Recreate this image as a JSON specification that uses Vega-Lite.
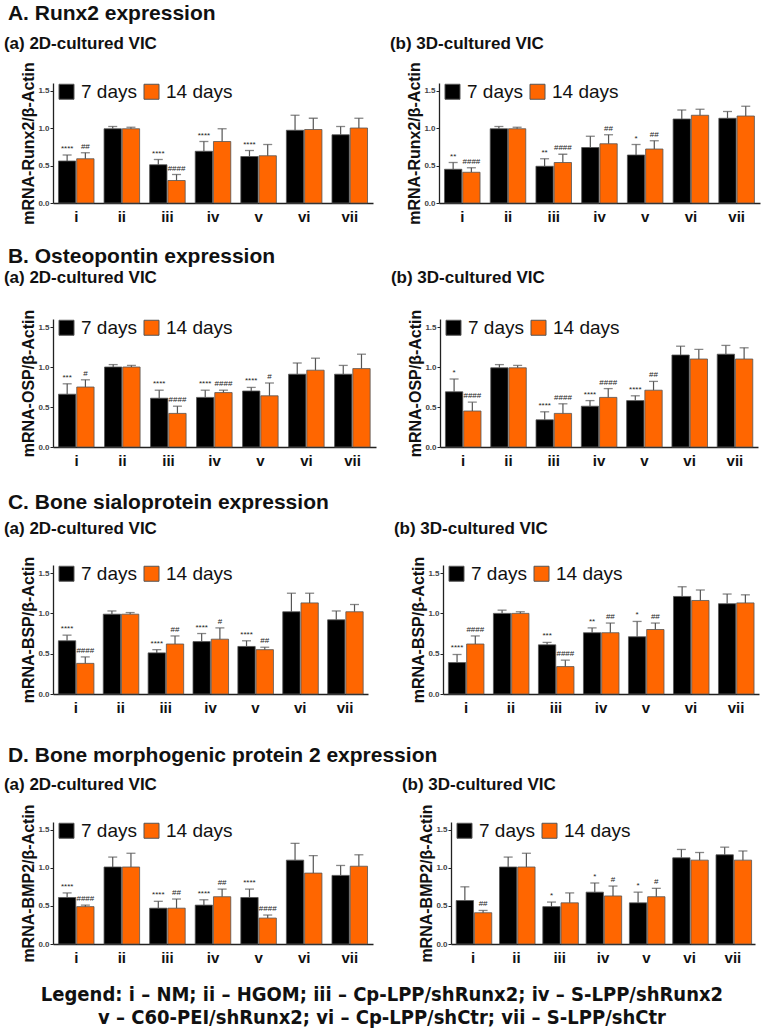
{
"$schema": "https://vega.github.io/schema/vega-lite/v6.json",
"padding": {"left": 3, "top": 2, "right": 2, "bottom": 0},
"background": "white",
"datasets": {"d": [
{"p":"A2","g":"i","d":"7 days","v":0.56,"hi":0.64,"s":"****"},{"p":"A2","g":"i","d":"14 days","v":0.59,"hi":0.67,"s":"##"},
{"p":"A2","g":"ii","d":"7 days","v":0.99,"hi":1.02,"s":""},{"p":"A2","g":"ii","d":"14 days","v":0.99,"hi":1.01,"s":""},
{"p":"A2","g":"iii","d":"7 days","v":0.51,"hi":0.58,"s":"****"},{"p":"A2","g":"iii","d":"14 days","v":0.30,"hi":0.38,"s":"####"},
{"p":"A2","g":"iv","d":"7 days","v":0.69,"hi":0.82,"s":"****"},{"p":"A2","g":"iv","d":"14 days","v":0.82,"hi":0.99,"s":""},
{"p":"A2","g":"v","d":"7 days","v":0.62,"hi":0.70,"s":"****"},{"p":"A2","g":"v","d":"14 days","v":0.63,"hi":0.78,"s":""},
{"p":"A2","g":"vi","d":"7 days","v":0.97,"hi":1.17,"s":""},{"p":"A2","g":"vi","d":"14 days","v":0.98,"hi":1.13,"s":""},
{"p":"A2","g":"vii","d":"7 days","v":0.91,"hi":1.02,"s":""},{"p":"A2","g":"vii","d":"14 days","v":1.00,"hi":1.13,"s":""},

{"p":"A3","g":"i","d":"7 days","v":0.45,"hi":0.54,"s":"**"},{"p":"A3","g":"i","d":"14 days","v":0.41,"hi":0.47,"s":"####"},
{"p":"A3","g":"ii","d":"7 days","v":0.99,"hi":1.02,"s":""},{"p":"A3","g":"ii","d":"14 days","v":0.99,"hi":1.01,"s":""},
{"p":"A3","g":"iii","d":"7 days","v":0.49,"hi":0.59,"s":"**"},{"p":"A3","g":"iii","d":"14 days","v":0.54,"hi":0.65,"s":"####"},
{"p":"A3","g":"iv","d":"7 days","v":0.74,"hi":0.89,"s":""},{"p":"A3","g":"iv","d":"14 days","v":0.79,"hi":0.91,"s":"##"},
{"p":"A3","g":"v","d":"7 days","v":0.64,"hi":0.78,"s":"*"},{"p":"A3","g":"v","d":"14 days","v":0.72,"hi":0.83,"s":"##"},
{"p":"A3","g":"vi","d":"7 days","v":1.12,"hi":1.24,"s":""},{"p":"A3","g":"vi","d":"14 days","v":1.17,"hi":1.25,"s":""},
{"p":"A3","g":"vii","d":"7 days","v":1.13,"hi":1.22,"s":""},{"p":"A3","g":"vii","d":"14 days","v":1.16,"hi":1.29,"s":""},

{"p":"B2","g":"i","d":"7 days","v":0.66,"hi":0.79,"s":"***"},{"p":"B2","g":"i","d":"14 days","v":0.75,"hi":0.84,"s":"#"},
{"p":"B2","g":"ii","d":"7 days","v":1.00,"hi":1.03,"s":""},{"p":"B2","g":"ii","d":"14 days","v":1.00,"hi":1.02,"s":""},
{"p":"B2","g":"iii","d":"7 days","v":0.61,"hi":0.71,"s":"****"},{"p":"B2","g":"iii","d":"14 days","v":0.42,"hi":0.51,"s":"####"},
{"p":"B2","g":"iv","d":"7 days","v":0.62,"hi":0.71,"s":"****"},{"p":"B2","g":"iv","d":"14 days","v":0.68,"hi":0.71,"s":"####"},
{"p":"B2","g":"v","d":"7 days","v":0.70,"hi":0.745,"s":"****"},{"p":"B2","g":"v","d":"14 days","v":0.64,"hi":0.80,"s":"#"},
{"p":"B2","g":"vi","d":"7 days","v":0.91,"hi":1.05,"s":""},{"p":"B2","g":"vi","d":"14 days","v":0.96,"hi":1.11,"s":""},
{"p":"B2","g":"vii","d":"7 days","v":0.91,"hi":1.02,"s":""},{"p":"B2","g":"vii","d":"14 days","v":0.98,"hi":1.16,"s":""},

{"p":"B3","g":"i","d":"7 days","v":0.69,"hi":0.85,"s":"*"},{"p":"B3","g":"i","d":"14 days","v":0.45,"hi":0.56,"s":"####"},
{"p":"B3","g":"ii","d":"7 days","v":0.99,"hi":1.03,"s":""},{"p":"B3","g":"ii","d":"14 days","v":0.99,"hi":1.02,"s":""},
{"p":"B3","g":"iii","d":"7 days","v":0.34,"hi":0.44,"s":"****"},{"p":"B3","g":"iii","d":"14 days","v":0.42,"hi":0.54,"s":"####"},
{"p":"B3","g":"iv","d":"7 days","v":0.51,"hi":0.58,"s":"****"},{"p":"B3","g":"iv","d":"14 days","v":0.62,"hi":0.73,"s":"####"},
{"p":"B3","g":"v","d":"7 days","v":0.58,"hi":0.64,"s":"****"},{"p":"B3","g":"v","d":"14 days","v":0.71,"hi":0.82,"s":"##"},
{"p":"B3","g":"vi","d":"7 days","v":1.15,"hi":1.26,"s":""},{"p":"B3","g":"vi","d":"14 days","v":1.10,"hi":1.22,"s":""},
{"p":"B3","g":"vii","d":"7 days","v":1.16,"hi":1.27,"s":""},{"p":"B3","g":"vii","d":"14 days","v":1.10,"hi":1.24,"s":""},

{"p":"C2","g":"i","d":"7 days","v":0.66,"hi":0.73,"s":"****"},{"p":"C2","g":"i","d":"14 days","v":0.38,"hi":0.46,"s":"####"},
{"p":"C2","g":"ii","d":"7 days","v":0.99,"hi":1.03,"s":""},{"p":"C2","g":"ii","d":"14 days","v":0.99,"hi":1.01,"s":""},
{"p":"C2","g":"iii","d":"7 days","v":0.51,"hi":0.55,"s":"****"},{"p":"C2","g":"iii","d":"14 days","v":0.62,"hi":0.72,"s":"##"},
{"p":"C2","g":"iv","d":"7 days","v":0.65,"hi":0.75,"s":"****"},{"p":"C2","g":"iv","d":"14 days","v":0.68,"hi":0.82,"s":"#"},
{"p":"C2","g":"v","d":"7 days","v":0.59,"hi":0.66,"s":"****"},{"p":"C2","g":"v","d":"14 days","v":0.55,"hi":0.58,"s":"##"},
{"p":"C2","g":"vi","d":"7 days","v":1.02,"hi":1.25,"s":""},{"p":"C2","g":"vi","d":"14 days","v":1.13,"hi":1.25,"s":""},
{"p":"C2","g":"vii","d":"7 days","v":0.92,"hi":1.03,"s":""},{"p":"C2","g":"vii","d":"14 days","v":1.02,"hi":1.11,"s":""},

{"p":"C3","g":"i","d":"7 days","v":0.39,"hi":0.49,"s":"****"},{"p":"C3","g":"i","d":"14 days","v":0.62,"hi":0.72,"s":"####"},
{"p":"C3","g":"ii","d":"7 days","v":1.00,"hi":1.04,"s":""},{"p":"C3","g":"ii","d":"14 days","v":1.00,"hi":1.02,"s":""},
{"p":"C3","g":"iii","d":"7 days","v":0.61,"hi":0.64,"s":"***"},{"p":"C3","g":"iii","d":"14 days","v":0.34,"hi":0.42,"s":"####"},
{"p":"C3","g":"iv","d":"7 days","v":0.76,"hi":0.82,"s":"**"},{"p":"C3","g":"iv","d":"14 days","v":0.76,"hi":0.88,"s":"##"},
{"p":"C3","g":"v","d":"7 days","v":0.71,"hi":0.90,"s":"*"},{"p":"C3","g":"v","d":"14 days","v":0.80,"hi":0.88,"s":"##"},
{"p":"C3","g":"vi","d":"7 days","v":1.21,"hi":1.33,"s":""},{"p":"C3","g":"vi","d":"14 days","v":1.16,"hi":1.29,"s":""},
{"p":"C3","g":"vii","d":"7 days","v":1.12,"hi":1.24,"s":""},{"p":"C3","g":"vii","d":"14 days","v":1.13,"hi":1.23,"s":""},

{"p":"D2","g":"i","d":"7 days","v":0.61,"hi":0.67,"s":"****"},{"p":"D2","g":"i","d":"14 days","v":0.49,"hi":0.51,"s":"####"},
{"p":"D2","g":"ii","d":"7 days","v":1.01,"hi":1.14,"s":""},{"p":"D2","g":"ii","d":"14 days","v":1.01,"hi":1.19,"s":""},
{"p":"D2","g":"iii","d":"7 days","v":0.47,"hi":0.56,"s":"****"},{"p":"D2","g":"iii","d":"14 days","v":0.47,"hi":0.59,"s":"##"},
{"p":"D2","g":"iv","d":"7 days","v":0.51,"hi":0.58,"s":"****"},{"p":"D2","g":"iv","d":"14 days","v":0.62,"hi":0.72,"s":"##"},
{"p":"D2","g":"v","d":"7 days","v":0.61,"hi":0.72,"s":"****"},{"p":"D2","g":"v","d":"14 days","v":0.34,"hi":0.38,"s":"####"},
{"p":"D2","g":"vi","d":"7 days","v":1.10,"hi":1.32,"s":""},{"p":"D2","g":"vi","d":"14 days","v":0.93,"hi":1.16,"s":""},
{"p":"D2","g":"vii","d":"7 days","v":0.90,"hi":1.03,"s":""},{"p":"D2","g":"vii","d":"14 days","v":1.02,"hi":1.17,"s":""},

{"p":"D3","g":"i","d":"7 days","v":0.57,"hi":0.75,"s":""},{"p":"D3","g":"i","d":"14 days","v":0.41,"hi":0.44,"s":"##"},
{"p":"D3","g":"ii","d":"7 days","v":1.01,"hi":1.14,"s":""},{"p":"D3","g":"ii","d":"14 days","v":1.01,"hi":1.19,"s":""},
{"p":"D3","g":"iii","d":"7 days","v":0.49,"hi":0.55,"s":"*"},{"p":"D3","g":"iii","d":"14 days","v":0.54,"hi":0.67,"s":""},
{"p":"D3","g":"iv","d":"7 days","v":0.68,"hi":0.80,"s":"*"},{"p":"D3","g":"iv","d":"14 days","v":0.63,"hi":0.76,"s":"#"},
{"p":"D3","g":"v","d":"7 days","v":0.54,"hi":0.68,"s":"*"},{"p":"D3","g":"v","d":"14 days","v":0.62,"hi":0.73,"s":"#"},
{"p":"D3","g":"vi","d":"7 days","v":1.13,"hi":1.24,"s":""},{"p":"D3","g":"vi","d":"14 days","v":1.10,"hi":1.20,"s":""},
{"p":"D3","g":"vii","d":"7 days","v":1.17,"hi":1.27,"s":""},{"p":"D3","g":"vii","d":"14 days","v":1.10,"hi":1.22,"s":""}
]},
"title": {"text": ["Legend: i – NM; ii – HGOM; iii – Cp-LPP/shRunx2; iv – S-LPP/shRunx2", "v – C60-PEI/shRunx2; vi – Cp-LPP/shCtr; vii – S-LPP/shCtr"], "orient": "bottom", "anchor": "middle", "frame": "bounds", "font": "DejaVu Sans Condensed", "fontSize": 20, "fontWeight": "bold", "color": "#111", "offset": 20, "lineHeight": 23},
"resolve": {"scale": {"color": "independent"}, "legend": {"color": "independent"}},
"spacing": 19,
"vconcat": [
{"title": {"text": "A. Runx2 expression", "fontSize": 21, "dx": 4, "offset": 11}, "spacing": 16,
 "resolve": {"scale": {"color": "independent"}, "legend": {"color": "independent"}},
 "hconcat": [
  {"width": 320, "height": 120, "title": {"text": "(a) 2D-cultured VIC", "fontSize": 17, "dx": -17, "offset": 9},
   "data": {"name": "d"}, "transform": [{"filter": "datum.p == 'A2'"}],
   "encoding": {"x": {"field": "g", "type": "nominal", "sort": ["i","ii","iii","iv","v","vi","vii"], "scale": {"paddingInner": 0.22, "paddingOuter": 0.12}, "axis": {"title": null, "minExtent": 24}},
     "xOffset": {"field": "d", "sort": ["7 days","14 days"], "scale": {"paddingInner": 0.05}}},
   "layer": [
    {"mark": {"type": "bar", "stroke": "#555", "strokeWidth": 0.8}, "encoding": {"y": {"field": "v", "type": "quantitative", "scale": {"domain": [0, 1.5]}, "axis": {"title": "mRNA-Runx2/β-Actin"}}, "color": {"field": "d", "sort": ["7 days","14 days"], "scale": {"domain": ["7 days","14 days"], "range": ["#000000","#FF6600"]}}}},
    {"mark": {"type": "rule", "color": "#555", "strokeWidth": 1.2}, "encoding": {"y": {"field": "v", "type": "quantitative"}, "y2": {"field": "hi"}}},
    {"mark": {"type": "tick", "color": "#555", "size": 9, "thickness": 1.3, "orient": "horizontal"}, "encoding": {"y": {"field": "hi", "type": "quantitative"}}},
    {"mark": {"type": "text", "fontSize": 8, "dy": -6, "color": "#222"}, "encoding": {"y": {"field": "hi", "type": "quantitative"}, "text": {"field": "s"}}}
   ]},
  {"width": 321, "height": 120, "title": {"text": "(b) 3D-cultured VIC", "fontSize": 17, "dx": -17, "offset": 9},
   "data": {"name": "d"}, "transform": [{"filter": "datum.p == 'A3'"}],
   "encoding": {"x": {"field": "g", "type": "nominal", "sort": ["i","ii","iii","iv","v","vi","vii"], "scale": {"paddingInner": 0.22, "paddingOuter": 0.12}, "axis": {"title": null, "minExtent": 24}},
     "xOffset": {"field": "d", "sort": ["7 days","14 days"], "scale": {"paddingInner": 0.05}}},
   "layer": [
    {"mark": {"type": "bar", "stroke": "#555", "strokeWidth": 0.8}, "encoding": {"y": {"field": "v", "type": "quantitative", "scale": {"domain": [0, 1.5]}, "axis": {"title": "mRNA-Runx2/β-Actin"}}, "color": {"field": "d", "sort": ["7 days","14 days"], "scale": {"domain": ["7 days","14 days"], "range": ["#000000","#FF6600"]}}}},
    {"mark": {"type": "rule", "color": "#555", "strokeWidth": 1.2}, "encoding": {"y": {"field": "v", "type": "quantitative"}, "y2": {"field": "hi"}}},
    {"mark": {"type": "tick", "color": "#555", "size": 9, "thickness": 1.3, "orient": "horizontal"}, "encoding": {"y": {"field": "hi", "type": "quantitative"}}},
    {"mark": {"type": "text", "fontSize": 8, "dy": -6, "color": "#222"}, "encoding": {"y": {"field": "hi", "type": "quantitative"}, "text": {"field": "s"}}}
   ]}
 ]},
{"title": {"text": "B. Osteopontin expression", "fontSize": 21, "dx": 4, "offset": 2}, "spacing": 14,
 "resolve": {"scale": {"color": "independent"}, "legend": {"color": "independent"}},
 "hconcat": [
  {"width": 323, "height": 128, "title": {"text": "(a) 2D-cultured VIC", "fontSize": 17, "dx": -17, "offset": 22},
   "data": {"name": "d"}, "transform": [{"filter": "datum.p == 'B2'"}],
   "encoding": {"x": {"field": "g", "type": "nominal", "sort": ["i","ii","iii","iv","v","vi","vii"], "scale": {"paddingInner": 0.22, "paddingOuter": 0.12}, "axis": {"title": null, "minExtent": 26}},
     "xOffset": {"field": "d", "sort": ["7 days","14 days"], "scale": {"paddingInner": 0.05}}},
   "layer": [
    {"mark": {"type": "bar", "stroke": "#555", "strokeWidth": 0.8}, "encoding": {"y": {"field": "v", "type": "quantitative", "scale": {"domain": [0, 1.5]}, "axis": {"title": "mRNA-OSP/β-Actin"}}, "color": {"field": "d", "sort": ["7 days","14 days"], "scale": {"domain": ["7 days","14 days"], "range": ["#000000","#FF6600"]}}}},
    {"mark": {"type": "rule", "color": "#555", "strokeWidth": 1.2}, "encoding": {"y": {"field": "v", "type": "quantitative"}, "y2": {"field": "hi"}}},
    {"mark": {"type": "tick", "color": "#555", "size": 9, "thickness": 1.3, "orient": "horizontal"}, "encoding": {"y": {"field": "hi", "type": "quantitative"}}},
    {"mark": {"type": "text", "fontSize": 8, "dy": -6, "color": "#222"}, "encoding": {"y": {"field": "hi", "type": "quantitative"}, "text": {"field": "s"}}}
   ]},
  {"width": 318, "height": 128, "title": {"text": "(b) 3D-cultured VIC", "fontSize": 17, "dx": -17, "offset": 22},
   "data": {"name": "d"}, "transform": [{"filter": "datum.p == 'B3'"}],
   "encoding": {"x": {"field": "g", "type": "nominal", "sort": ["i","ii","iii","iv","v","vi","vii"], "scale": {"paddingInner": 0.22, "paddingOuter": 0.12}, "axis": {"title": null, "minExtent": 26}},
     "xOffset": {"field": "d", "sort": ["7 days","14 days"], "scale": {"paddingInner": 0.05}}},
   "layer": [
    {"mark": {"type": "bar", "stroke": "#555", "strokeWidth": 0.8}, "encoding": {"y": {"field": "v", "type": "quantitative", "scale": {"domain": [0, 1.5]}, "axis": {"title": "mRNA-OSP/β-Actin"}}, "color": {"field": "d", "sort": ["7 days","14 days"], "scale": {"domain": ["7 days","14 days"], "range": ["#000000","#FF6600"]}}}},
    {"mark": {"type": "rule", "color": "#555", "strokeWidth": 1.2}, "encoding": {"y": {"field": "v", "type": "quantitative"}, "y2": {"field": "hi"}}},
    {"mark": {"type": "tick", "color": "#555", "size": 9, "thickness": 1.3, "orient": "horizontal"}, "encoding": {"y": {"field": "hi", "type": "quantitative"}}},
    {"mark": {"type": "text", "fontSize": 8, "dy": -6, "color": "#222"}, "encoding": {"y": {"field": "hi", "type": "quantitative"}, "text": {"field": "s"}}}
   ]}
 ]},
{"title": {"text": "C. Bone sialoprotein expression", "fontSize": 21, "dx": 4, "offset": 7}, "spacing": 25,
 "resolve": {"scale": {"color": "independent"}, "legend": {"color": "independent"}},
 "hconcat": [
  {"width": 315, "height": 129, "title": {"text": "(a) 2D-cultured VIC", "fontSize": 17, "dx": -17, "offset": 18},
   "data": {"name": "d"}, "transform": [{"filter": "datum.p == 'C2'"}],
   "encoding": {"x": {"field": "g", "type": "nominal", "sort": ["i","ii","iii","iv","v","vi","vii"], "scale": {"paddingInner": 0.22, "paddingOuter": 0.12}, "axis": {"title": null, "minExtent": 31}},
     "xOffset": {"field": "d", "sort": ["7 days","14 days"], "scale": {"paddingInner": 0.05}}},
   "layer": [
    {"mark": {"type": "bar", "stroke": "#555", "strokeWidth": 0.8}, "encoding": {"y": {"field": "v", "type": "quantitative", "scale": {"domain": [0, 1.5]}, "axis": {"title": "mRNA-BSP/β-Actin"}}, "color": {"field": "d", "sort": ["7 days","14 days"], "scale": {"domain": ["7 days","14 days"], "range": ["#000000","#FF6600"]}}}},
    {"mark": {"type": "rule", "color": "#555", "strokeWidth": 1.2}, "encoding": {"y": {"field": "v", "type": "quantitative"}, "y2": {"field": "hi"}}},
    {"mark": {"type": "tick", "color": "#555", "size": 9, "thickness": 1.3, "orient": "horizontal"}, "encoding": {"y": {"field": "hi", "type": "quantitative"}}},
    {"mark": {"type": "text", "fontSize": 8, "dy": -6, "color": "#222"}, "encoding": {"y": {"field": "hi", "type": "quantitative"}, "text": {"field": "s"}}}
   ]},
  {"width": 316, "height": 129, "title": {"text": "(b) 3D-cultured VIC", "fontSize": 17, "dx": -17, "offset": 18},
   "data": {"name": "d"}, "transform": [{"filter": "datum.p == 'C3'"}],
   "encoding": {"x": {"field": "g", "type": "nominal", "sort": ["i","ii","iii","iv","v","vi","vii"], "scale": {"paddingInner": 0.22, "paddingOuter": 0.12}, "axis": {"title": null, "minExtent": 31}},
     "xOffset": {"field": "d", "sort": ["7 days","14 days"], "scale": {"paddingInner": 0.05}}},
   "layer": [
    {"mark": {"type": "bar", "stroke": "#555", "strokeWidth": 0.8}, "encoding": {"y": {"field": "v", "type": "quantitative", "scale": {"domain": [0, 1.5]}, "axis": {"title": "mRNA-BSP/β-Actin"}}, "color": {"field": "d", "sort": ["7 days","14 days"], "scale": {"domain": ["7 days","14 days"], "range": ["#000000","#FF6600"]}}}},
    {"mark": {"type": "rule", "color": "#555", "strokeWidth": 1.2}, "encoding": {"y": {"field": "v", "type": "quantitative"}, "y2": {"field": "hi"}}},
    {"mark": {"type": "tick", "color": "#555", "size": 9, "thickness": 1.3, "orient": "horizontal"}, "encoding": {"y": {"field": "hi", "type": "quantitative"}}},
    {"mark": {"type": "text", "fontSize": 8, "dy": -6, "color": "#222"}, "encoding": {"y": {"field": "hi", "type": "quantitative"}, "text": {"field": "s"}}}
   ]}
 ]},
{"title": {"text": "D. Bone morphogenic protein 2 expression", "fontSize": 21, "dx": 4, "offset": 10}, "spacing": 28,
 "resolve": {"scale": {"color": "independent"}, "legend": {"color": "independent"}},
 "hconcat": [
  {"width": 320, "height": 122, "title": {"text": "(a) 2D-cultured VIC", "fontSize": 17, "dx": -17, "offset": 10},
   "data": {"name": "d"}, "transform": [{"filter": "datum.p == 'D2'"}],
   "encoding": {"x": {"field": "g", "type": "nominal", "sort": ["i","ii","iii","iv","v","vi","vii"], "scale": {"paddingInner": 0.22, "paddingOuter": 0.12}, "axis": {"title": null}},
     "xOffset": {"field": "d", "sort": ["7 days","14 days"], "scale": {"paddingInner": 0.05}}},
   "layer": [
    {"mark": {"type": "bar", "stroke": "#555", "strokeWidth": 0.8}, "encoding": {"y": {"field": "v", "type": "quantitative", "scale": {"domain": [0, 1.5]}, "axis": {"title": "mRNA-BMP2/β-Actin"}}, "color": {"field": "d", "sort": ["7 days","14 days"], "scale": {"domain": ["7 days","14 days"], "range": ["#000000","#FF6600"]}}}},
    {"mark": {"type": "rule", "color": "#555", "strokeWidth": 1.2}, "encoding": {"y": {"field": "v", "type": "quantitative"}, "y2": {"field": "hi"}}},
    {"mark": {"type": "tick", "color": "#555", "size": 9, "thickness": 1.3, "orient": "horizontal"}, "encoding": {"y": {"field": "hi", "type": "quantitative"}}},
    {"mark": {"type": "text", "fontSize": 8, "dy": -6, "color": "#222"}, "encoding": {"y": {"field": "hi", "type": "quantitative"}, "text": {"field": "s"}}}
   ]},
  {"width": 304, "height": 122, "title": {"text": "(b) 3D-cultured VIC", "fontSize": 17, "dx": -17, "offset": 10},
   "data": {"name": "d"}, "transform": [{"filter": "datum.p == 'D3'"}],
   "encoding": {"x": {"field": "g", "type": "nominal", "sort": ["i","ii","iii","iv","v","vi","vii"], "scale": {"paddingInner": 0.22, "paddingOuter": 0.12}, "axis": {"title": null}},
     "xOffset": {"field": "d", "sort": ["7 days","14 days"], "scale": {"paddingInner": 0.05}}},
   "layer": [
    {"mark": {"type": "bar", "stroke": "#555", "strokeWidth": 0.8}, "encoding": {"y": {"field": "v", "type": "quantitative", "scale": {"domain": [0, 1.5]}, "axis": {"title": "mRNA-BMP2/β-Actin"}}, "color": {"field": "d", "sort": ["7 days","14 days"], "scale": {"domain": ["7 days","14 days"], "range": ["#000000","#FF6600"]}}}},
    {"mark": {"type": "rule", "color": "#555", "strokeWidth": 1.2}, "encoding": {"y": {"field": "v", "type": "quantitative"}, "y2": {"field": "hi"}}},
    {"mark": {"type": "tick", "color": "#555", "size": 9, "thickness": 1.3, "orient": "horizontal"}, "encoding": {"y": {"field": "hi", "type": "quantitative"}}},
    {"mark": {"type": "text", "fontSize": 8, "dy": -6, "color": "#222"}, "encoding": {"y": {"field": "hi", "type": "quantitative"}, "text": {"field": "s"}}}
   ]}
 ]}
],
"config": {
 "font": "Liberation Sans",
 "view": {"stroke": null},
 "title": {"font": "Liberation Sans", "fontWeight": "bold", "anchor": "start", "frame": "bounds", "color": "#111"},
 "axisY": {"values": [0, 0.5, 1, 1.5], "format": ".1f", "grid": false, "labelFontSize": 8, "labelFontWeight": "bold", "labelColor": "#444", "labelPadding": 1, "domainColor": "#222", "domainWidth": 1.3, "tickColor": "#222", "tickSize": 3, "titleFontSize": 16, "titleFontWeight": "bold", "titleColor": "#111", "titlePadding": 1},
 "axisX": {"labelAngle": 0, "labelFontSize": 15, "labelFontWeight": "bold", "labelColor": "#111", "ticks": false, "labelPadding": 6, "domainColor": "#222", "domainWidth": 1.3},
 "legend": {"orient": "none", "legendX": 4, "legendY": -1, "direction": "horizontal", "title": null, "symbolType": "square", "symbolSize": 225, "symbolStrokeColor": "#555", "symbolStrokeWidth": 1, "symbolOpacity": 1, "labelFontSize": 19, "labelFont": "Liberation Sans", "labelColor": "#111", "labelOffset": 5, "columnPadding": 5, "padding": 0}
}
}
